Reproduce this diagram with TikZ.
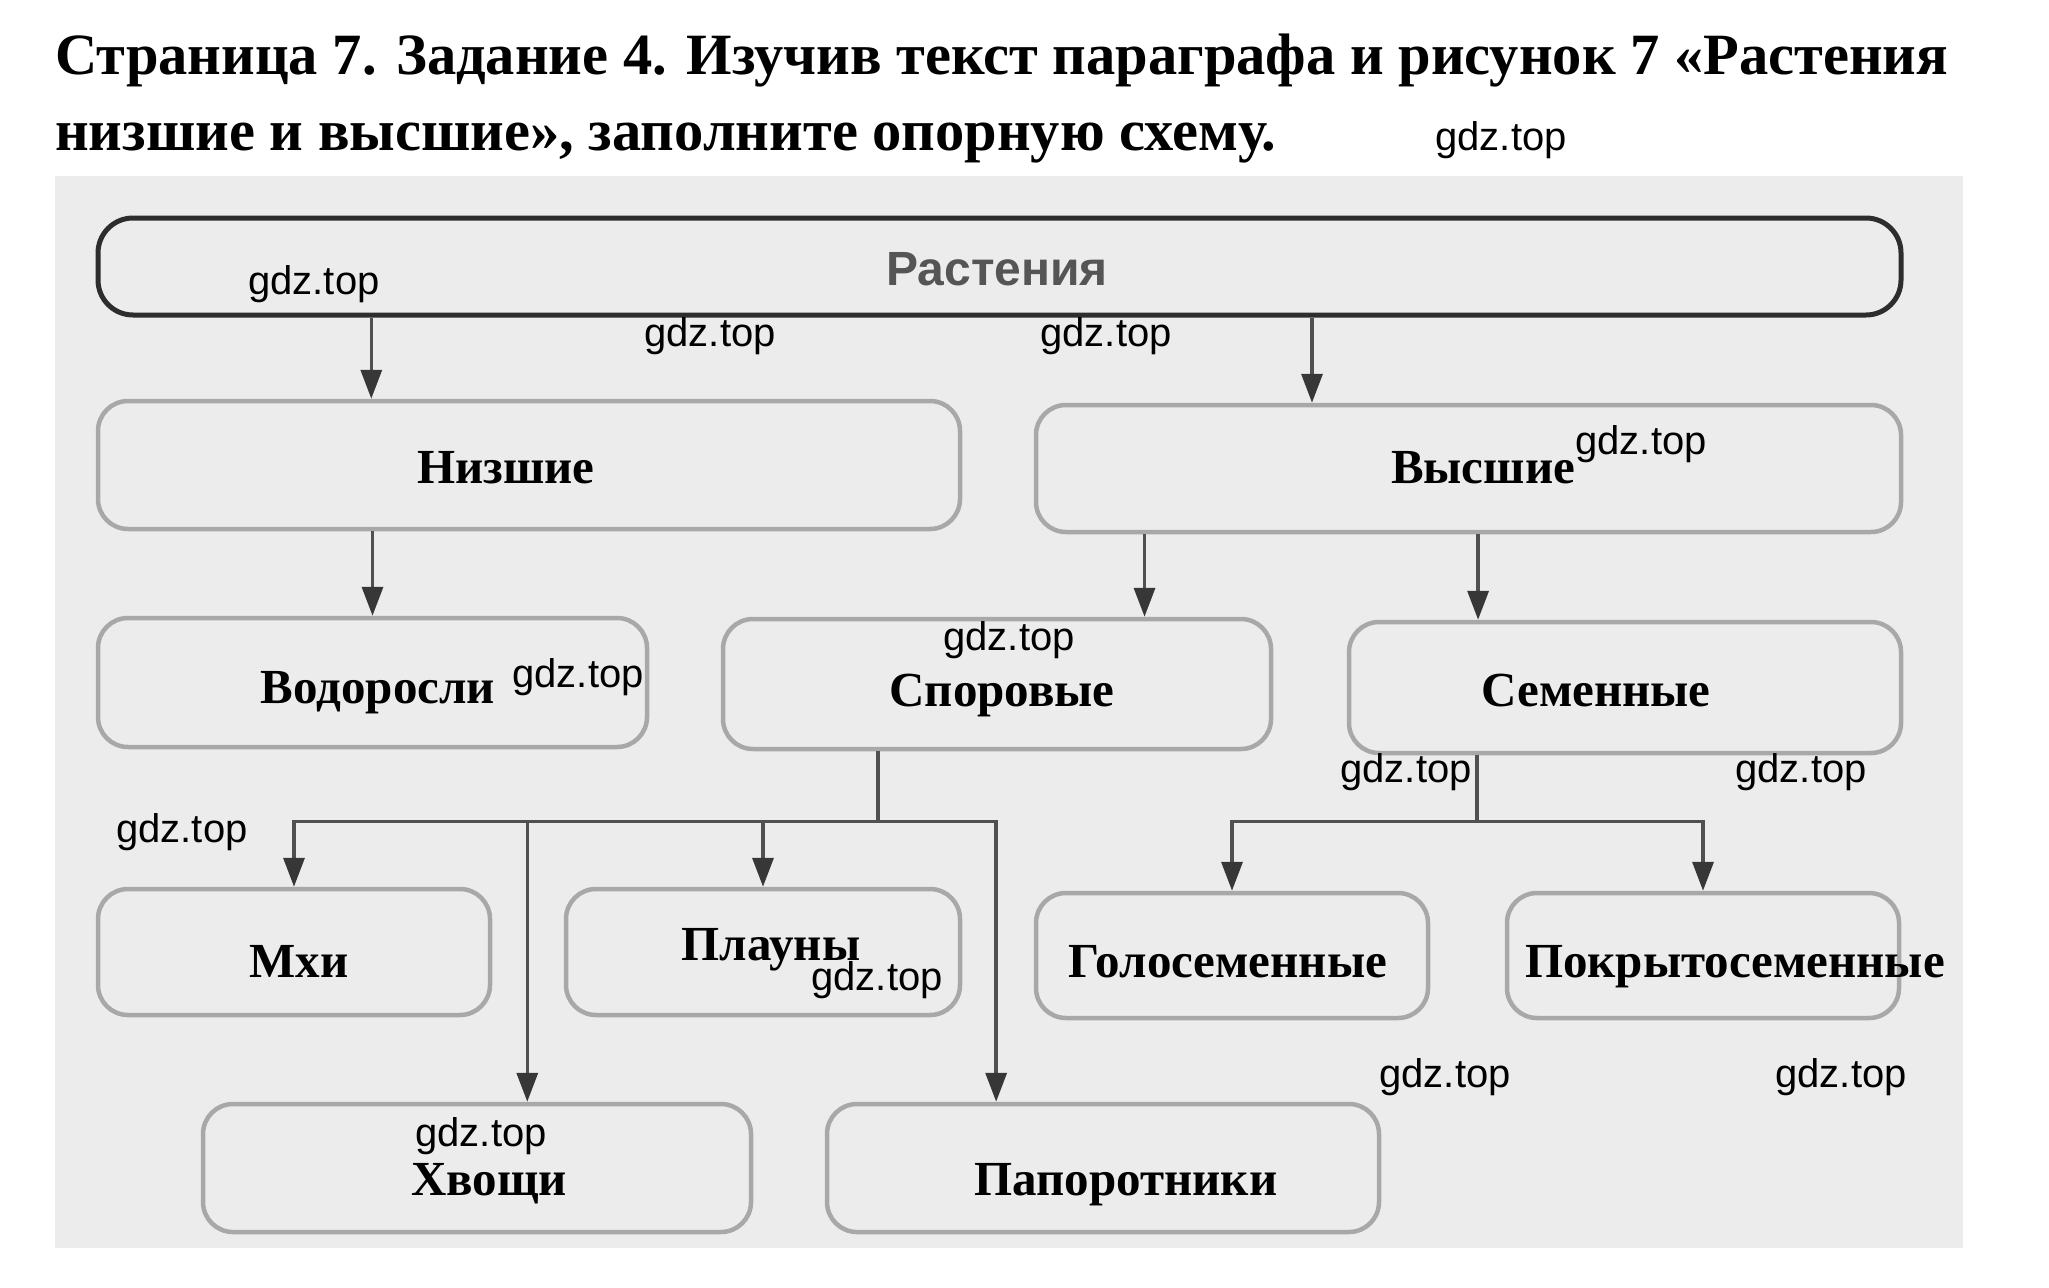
\documentclass[tikz,border=0pt]{standalone}
\usepackage{fontspec}
\setmainfont{Liberation Serif}
\newfontfamily\wmfont{Liberation Sans}
\usetikzlibrary{arrows.meta,calc}
\definecolor{bggray}{RGB}{236,236,236}
\definecolor{boxline}{RGB}{168,168,168}
\definecolor{arrgray}{RGB}{80,80,80}
\definecolor{headgray}{RGB}{55,55,55}
\definecolor{topline}{RGB}{45,45,45}
\definecolor{rasttext}{RGB}{85,85,85}
\begin{document}
\begin{tikzpicture}[x=1pt,y=-1pt,
  box/.style={draw=boxline, line width=4.5pt, rounded corners=30pt, inner sep=0pt},
  lbl/.style={font=\fontsize{49}{58}\selectfont\bfseries, inner sep=0pt, anchor=base},
  wm/.style={font=\wmfont\fontsize{40}{46}\selectfont, inner sep=0pt, text=black},
  arr/.style={draw=arrgray, line width=3.5pt, -{Triangle[length=29pt,width=21pt,fill=headgray,color=headgray]}},
  conn/.style={draw=arrgray, line width=3.5pt},
  ttl/.style={font=\fontsize{58.5}{75}\selectfont\bfseries, inner sep=0pt, anchor=base west}
]
\useasboundingbox (0,0) rectangle (2049,1287);
\fill[white] (0,0) rectangle (2049,1287);
\fill[bggray] (55,176) rectangle (1963,1248);

% title
\node[ttl] (title1) at (55,75) {Страница 7. Задание 4. Изучив текст параграфа и рисунок 7 «Растения};
\node[ttl] (title2) at (55,150) {низшие и высшие», заполните опорную схему.};

% boxes
\node[draw=topline, line width=5pt, rounded corners=35pt, inner sep=0pt,
      minimum width=1803pt, minimum height=97pt] (rast) at (999.5,266.5) {};
\node[box, minimum width=862pt, minimum height=128pt] (nizh) at (529,465) {};
\node[box, minimum width=865pt, minimum height=127pt] (vys) at (1468.5,468.5) {};
\node[box, minimum width=549pt, minimum height=129pt] (vod) at (372.5,682.5) {};
\node[box, minimum width=548pt, minimum height=130pt] (spor) at (997,684) {};
\node[box, minimum width=552pt, minimum height=131pt] (sem) at (1625,687.5) {};
\node[box, minimum width=392pt, minimum height=126pt] (mhi) at (294,952) {};
\node[box, minimum width=394pt, minimum height=126pt] (plau) at (763,952) {};
\node[box, minimum width=392pt, minimum height=125pt] (golo) at (1232,955.5) {};
\node[box, minimum width=392pt, minimum height=125pt] (pokr) at (1703,955.5) {};
\node[box, minimum width=548pt, minimum height=128pt] (hvo) at (477,1168) {};
\node[box, minimum width=552pt, minimum height=128pt] (pap) at (1103,1168) {};

% labels
\node[font=\wmfont\fontsize{48}{56}\selectfont\bfseries, text=rasttext, inner sep=0pt, anchor=base] (trast) at (997,285) {Растения};
\node[lbl] (tnizh) at (506,483) {Низшие};
\node[lbl] (tvys) at (1483,483) {Высшие};
\node[lbl] (tvod) at (378,703) {Водоросли};
\node[lbl] (tspor) at (1002,706) {Споровые};
\node[lbl] (tsem) at (1596,706) {Семенные};
\node[lbl] (tmhi) at (299,977) {Мхи};
\node[lbl] (tplau) at (771,960) {Плауны};
\node[lbl] (tgolo) at (1228,977) {Голосеменные};
\node[lbl] (tpokr) at (1735,977) {Покрытосеменные};
\node[lbl] (thvo) at (489,1195) {Хвощи};
\node[lbl] (tpap) at (1126,1195) {Папоротники};

% connectors
\coordinate (a1) at ($(nizh.north west)!0.318!(nizh.north east)$);
\draw[arr] (rast.south -| a1) -- (a1);
\coordinate (a2) at ($(vys.north west)!0.32!(vys.north east)$);
\draw[arr] (rast.south -| a2) -- (a2);
\draw[arr] (nizh.south -| vod.north) -- (vod.north);
\coordinate (a3) at ($(spor.north west)!0.767!(spor.north east)$);
\draw[arr] (vys.south -| a3) -- (a3);
\coordinate (a4) at ($(sem.north west)!0.236!(sem.north east)$);
\draw[arr] (vys.south -| a4) -- (a4);

\coordinate (sp) at ($(spor.south west)!0.285!(spor.south east)$);
\coordinate (sj) at ($(sp)+(0,70)$);
\draw[conn] (sp) -- (sj);
\coordinate (h1) at ($(hvo.north west)!0.591!(hvo.north east)$);
\coordinate (p1) at ($(pap.north west)!0.308!(pap.north east)$);
\draw[arr] (sj) -- (sj -| mhi.north) -- (mhi.north);
\draw[arr] (sj) -- (sj -| p1) -- (p1);
\draw[arr] (sj -| h1) -- (h1);
\draw[arr] (sj -| plau.north) -- (plau.north);

\coordinate (sd) at ($(sem.south west)!0.234!(sem.south east)$);
\coordinate (dj) at ($(sd)+(0,66)$);
\draw[conn] (sd) -- (dj);
\draw[arr] (dj) -- (dj -| golo.north) -- (golo.north);
\draw[arr] (dj) -- (dj -| pokr.north) -- (pokr.north);

% watermarks
\node[wm] (w1) at (1501,140) {gdz.top};
\node[wm] (w2) at (314,284) {gdz.top};
\node[wm] (w3) at (710,336) {gdz.top};
\node[wm] (w4) at (1106,336) {gdz.top};
\node[wm] (w5) at (1641,444) {gdz.top};
\node[wm] (w6) at (578,677) {gdz.top};
\node[wm] (w7) at (1009,640) {gdz.top};
\node[wm] (w8) at (1406,772) {gdz.top};
\node[wm] (w9) at (1801,772) {gdz.top};
\node[wm] (w10) at (182,832) {gdz.top};
\node[wm] (w11) at (877,980) {gdz.top};
\node[wm] (w12) at (481,1136) {gdz.top};
\node[wm] (w13) at (1445,1077) {gdz.top};
\node[wm] (w14) at (1841,1077) {gdz.top};
\end{tikzpicture}
\end{document}
